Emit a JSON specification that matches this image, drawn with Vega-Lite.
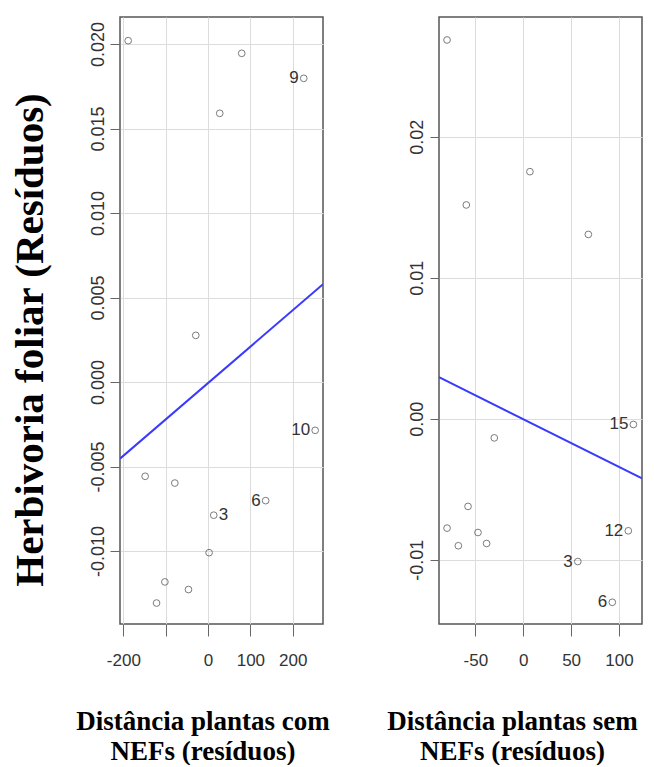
{
  "$schema": "https://vega.github.io/schema/vega-lite/v6.json",
  "background": "white",
  "padding": {"left": 8, "top": 16, "right": 0, "bottom": 0},
  "datasets": {
    "left": [
      {"x": -188.7, "y": 0.0202, "label": ""},
      {"x": 79.5, "y": 0.01945, "label": ""},
      {"x": 27.6, "y": 0.0159, "label": ""},
      {"x": 226, "y": 0.01797, "label": "9"},
      {"x": -29, "y": 0.00276, "label": ""},
      {"x": 253, "y": -0.00286, "label": "10"},
      {"x": -148.6, "y": -0.00558, "label": ""},
      {"x": -78.5, "y": -0.00598, "label": ""},
      {"x": 136, "y": -0.00702, "label": "6"},
      {"x": 13.4, "y": -0.00788, "label": "3"},
      {"x": 2.4, "y": -0.0101, "label": ""},
      {"x": -102, "y": -0.01183, "label": ""},
      {"x": -46.3, "y": -0.01228, "label": ""},
      {"x": -121.7, "y": -0.01308, "label": ""}
    ],
    "right": [
      {"x": -79.5, "y": 0.02687, "label": ""},
      {"x": 7, "y": 0.01753, "label": ""},
      {"x": -59.4, "y": 0.01517, "label": ""},
      {"x": 68, "y": 0.01308, "label": ""},
      {"x": 115, "y": -0.0004, "label": "15"},
      {"x": -30.2, "y": -0.00135, "label": ""},
      {"x": -57.6, "y": -0.00621, "label": ""},
      {"x": -79.5, "y": -0.00775, "label": ""},
      {"x": -47.2, "y": -0.00806, "label": ""},
      {"x": -67.7, "y": -0.009, "label": ""},
      {"x": -38.2, "y": -0.00884, "label": ""},
      {"x": 109.7, "y": -0.00794, "label": "12"},
      {"x": 57, "y": -0.01012, "label": "3"},
      {"x": 93, "y": -0.01301, "label": "6"}
    ]
  },
  "config": {
    "view": {"stroke": "#555", "strokeWidth": 1.5},
    "axis": {
      "domain": false,
      "gridColor": "#dcdcdc",
      "gridWidth": 1,
      "tickColor": "#666",
      "labelFont": "Liberation Sans",
      "labelFontSize": 17,
      "labelColor": "#333",
      "titleFont": "Liberation Serif",
      "titleFontWeight": "bold",
      "titleColor": "black",
      "labelFlush": false,
      "labelOverlap": false
    }
  },
  "spacing": 54,
  "hconcat": [
    {
      "width": 203,
      "height": 607,
      "data": {"name": "left"},
      "layer": [
        {
          "mark": {"type": "point", "shape": "circle", "filled": false, "color": "#444", "size": 45, "strokeWidth": 1},
          "encoding": {
            "x": {
              "field": "x", "type": "quantitative",
              "scale": {"domain": [-208, 271.5], "nice": false, "zero": false},
              "axis": {
                "values": [-200, -100, 0, 100, 200],
                "labelExpr": "datum.value == -100 ? '' : toString(datum.value)",
                "tickSize": 12, "labelPadding": 16,
                "title": ["Distância plantas com", "NEFs (resíduos)"],
                "titleFontSize": 27, "titleLineHeight": 30,
                "titleX": 82.5, "titleY": 105,
                "titleBaseline": "alphabetic", "titleAlign": "center"
              }
            },
            "y": {
              "field": "y", "type": "quantitative",
              "scale": {"domain": [-0.01432, 0.0216], "nice": false, "zero": false},
              "axis": {
                "values": [-0.01, -0.005, 0, 0.005, 0.01, 0.015, 0.02],
                "labelExpr": "replace(format(datum.value, '.3f'), '\u2212', '-')",
                "labelAngle": 270, "labelAlign": "center", "labelBaseline": "bottom",
                "labelFontSize": 18,
                "tickSize": 10, "labelPadding": 3,
                "title": "Herbivoria foliar (Resíduos)",
                "titleFontSize": 41, "titleAngle": 270,
                "titleX": -78, "titleY": 322.5,
                "titleBaseline": "alphabetic", "titleAlign": "center"
              }
            }
          }
        },
        {
          "transform": [{"regression": "y", "on": "x", "extent": [-208, 271.5]}],
          "mark": {"type": "line", "color": "#3a3aff", "strokeWidth": 2, "clip": true},
          "encoding": {
            "x": {"field": "x", "type": "quantitative"},
            "y": {"field": "y", "type": "quantitative"}
          }
        },
        {
          "transform": [{"filter": "datum.label != '' && datum.label != '3'"}],
          "mark": {"type": "text", "align": "right", "baseline": "middle", "dx": -5, "font": "Liberation Sans", "fontSize": 17, "color": "#333"},
          "encoding": {
            "x": {"field": "x", "type": "quantitative"},
            "y": {"field": "y", "type": "quantitative"},
            "text": {"field": "label"}
          }
        },
        {
          "transform": [{"filter": "datum.label == '3'"}],
          "mark": {"type": "text", "align": "left", "baseline": "middle", "dx": 5, "font": "Liberation Sans", "fontSize": 17, "color": "#333"},
          "encoding": {
            "x": {"field": "x", "type": "quantitative"},
            "y": {"field": "y", "type": "quantitative"},
            "text": {"field": "label"}
          }
        }
      ]
    },
    {
      "width": 203,
      "height": 607,
      "data": {"name": "right"},
      "layer": [
        {
          "mark": {"type": "point", "shape": "circle", "filled": false, "color": "#444", "size": 45, "strokeWidth": 1},
          "encoding": {
            "x": {
              "field": "x", "type": "quantitative",
              "scale": {"domain": [-87.9, 124], "nice": false, "zero": false},
              "axis": {
                "values": [-50, 0, 50, 100],
                "labelExpr": "toString(datum.value)",
                "tickSize": 12, "labelPadding": 16,
                "title": ["Distância plantas sem", "NEFs (resíduos)"],
                "titleFontSize": 27, "titleLineHeight": 30,
                "titleX": 73, "titleY": 105,
                "titleBaseline": "alphabetic", "titleAlign": "center"
              }
            },
            "y": {
              "field": "y", "type": "quantitative",
              "scale": {"domain": [-0.01455, 0.0285], "nice": false, "zero": false},
              "axis": {
                "values": [-0.01, 0, 0.01, 0.02],
                "labelExpr": "replace(format(datum.value, '.2f'), '\u2212', '-')",
                "labelAngle": 270, "labelAlign": "center", "labelBaseline": "bottom",
                "labelFontSize": 18,
                "tickSize": 9, "labelPadding": 4,
                "title": null
              }
            }
          }
        },
        {
          "transform": [{"regression": "y", "on": "x", "extent": [-87.9, 124]}],
          "mark": {"type": "line", "color": "#3a3aff", "strokeWidth": 2, "clip": true},
          "encoding": {
            "x": {"field": "x", "type": "quantitative"},
            "y": {"field": "y", "type": "quantitative"}
          }
        },
        {
          "transform": [{"filter": "datum.label != ''"}],
          "mark": {"type": "text", "align": "right", "baseline": "middle", "dx": -5, "font": "Liberation Sans", "fontSize": 17, "color": "#333"},
          "encoding": {
            "x": {"field": "x", "type": "quantitative"},
            "y": {"field": "y", "type": "quantitative"},
            "text": {"field": "label"}
          }
        }
      ]
    }
  ]
}
